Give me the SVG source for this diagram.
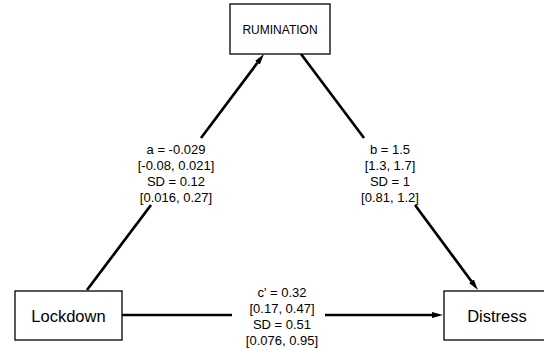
<svg xmlns="http://www.w3.org/2000/svg" width="544" height="350" viewBox="0 0 544 350">
<style>
.box{fill:#fff;stroke:#000;stroke-width:1.3}
.edge{fill:none;stroke:#000;stroke-width:2.7}
.lbl{font-family:"Liberation Sans",Arial,sans-serif;font-size:13px;fill:#000;text-anchor:middle}
.nt{font-family:"Liberation Sans",Arial,sans-serif;fill:#000;text-anchor:middle}
</style>
<defs>
<marker id="ah" markerUnits="userSpaceOnUse" markerWidth="12" markerHeight="8" refX="0" refY="3" orient="auto">
<path d="M0,0 L11,3 L0,6 z" fill="#000"/>
</marker>
</defs>
<rect width="544" height="350" fill="#fff"/>
<g id="connectors">
<line class="edge" x1="87" y1="290" x2="151" y2="205"/>
<line class="edge" x1="201" y1="138" x2="257.4" y2="62.8" marker-end="url(#ah)"/>
<line class="edge" x1="301" y1="54" x2="364" y2="138"/>
<line class="edge" x1="415" y1="205" x2="471.4" y2="281.2" marker-end="url(#ah)"/>
<line class="edge" x1="122" y1="315" x2="232" y2="315"/>
<line class="edge" x1="325" y1="315" x2="432" y2="315" marker-end="url(#ah)"/>
<g id="label-a">
<text class="lbl" x="176" y="154">a = -0.029</text>
<text class="lbl" x="176" y="170">[-0.08, 0.021]</text>
<text class="lbl" x="176" y="186">SD = 0.12</text>
<text class="lbl" x="176" y="202">[0.016, 0.27]</text>
</g>
<g id="label-b">
<text class="lbl" x="390" y="154">b = 1.5</text>
<text class="lbl" x="390" y="170">[1.3, 1.7]</text>
<text class="lbl" x="390" y="186">SD = 1</text>
<text class="lbl" x="390" y="202">[0.81, 1.2]</text>
</g>
<g id="label-c">
<text class="lbl" x="282" y="297">c' = 0.32</text>
<text class="lbl" x="282" y="313">[0.17, 0.47]</text>
<text class="lbl" x="282" y="329">SD = 0.51</text>
<text class="lbl" x="282" y="345">[0.076, 0.95]</text>
</g>
</g>
<g id="rumination">
<rect class="box" x="230" y="4" width="100" height="50"/>
<text class="nt" x="280" y="34" font-size="12">RUMINATION</text>
</g>
<g id="lockdown">
<rect class="box" x="15" y="291" width="107" height="49"/>
<text class="nt" x="68.5" y="321.5" font-size="16.5">Lockdown</text>
</g>
<g id="distress">
<rect class="box" x="444" y="291" width="107" height="49"/>
<text class="nt" x="497" y="321.5" font-size="16.5">Distress</text>
</g>
</svg>
